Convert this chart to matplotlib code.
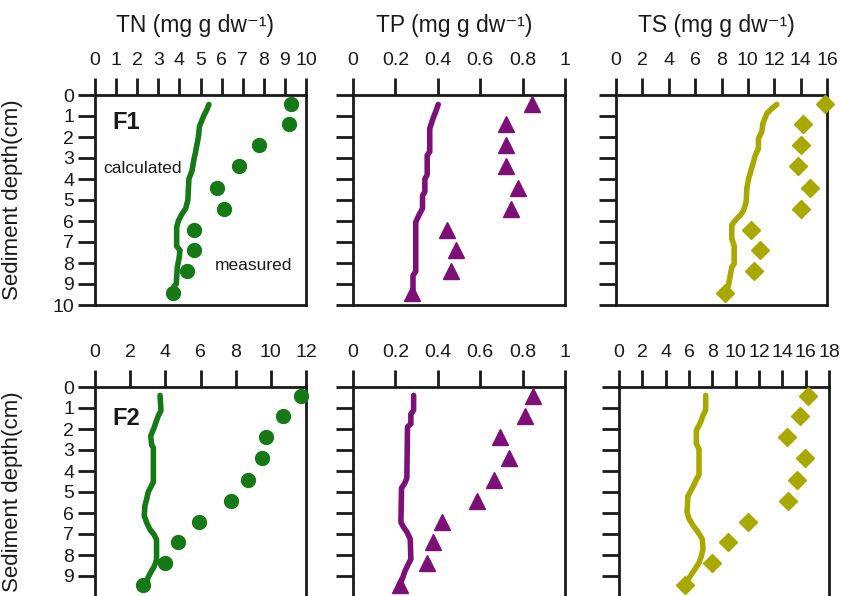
import matplotlib
matplotlib.use("Agg")
import matplotlib.pyplot as plt

plt.rcParams['font.family'] = ['Liberation Sans', 'DejaVu Sans']

# measured depths (cm) shared by all measured profiles
meas_depth = [0.45, 1.4, 2.4, 3.4, 4.45, 5.45, 6.45, 7.4, 8.4, 9.45]

# ---- F1 ----
tn1_meas = [9.29, 9.21, 7.79, 6.84, 5.77, 6.11, 4.71, 4.71, 4.38, 3.71]
tn1_calc_depth = [0.45, 0.7, 1.0, 1.5, 2.0, 2.8, 3.0, 3.6, 4.0, 5.0, 5.4, 5.7, 6.0, 6.3, 7.2, 7.4, 7.8, 8.2, 9.0, 9.1, 9.45]
tn1_calc = [5.4, 5.3, 5.15, 4.95, 4.9, 4.75, 4.7, 4.6, 4.45, 4.4, 4.3, 4.1, 3.95, 3.87, 3.87, 4.03, 3.98, 3.9, 3.85, 3.75, 3.65]

tp1_meas = [0.845, 0.724, 0.724, 0.72, 0.78, 0.745, 0.444, 0.488, 0.46, 0.28]
tp1_calc_depth = [0.45, 0.8, 1.1, 1.6, 2.7, 2.87, 3.8, 4.0, 4.6, 4.8, 5.4, 5.7, 6.05, 8.4, 8.6, 9.45]
tp1_calc = [0.402, 0.39, 0.378, 0.362, 0.362, 0.35, 0.35, 0.339, 0.339, 0.328, 0.328, 0.312, 0.296, 0.296, 0.283, 0.283]

ts1_meas = [15.87, 14.2, 14.0, 13.77, 14.73, 14.0, 10.23, 10.94, 10.43, 8.28]
ts1_calc_depth = [0.45, 0.64, 0.88, 1.35, 1.75, 2.07, 2.55, 2.87, 3.18, 3.45, 4.0, 4.46, 5.1, 5.5, 5.73, 5.97, 6.2, 6.85, 7.16, 8.04, 8.2, 8.6, 9.08, 9.24, 9.45]
ts1_calc = [12.2, 11.82, 11.44, 11.14, 11.06, 10.8, 10.8, 10.56, 10.43, 10.3, 10.05, 9.92, 9.87, 9.67, 9.42, 9.04, 8.78, 8.78, 8.96, 8.96, 8.78, 8.66, 8.53, 8.4, 8.28]

# ---- F2 ----
tn2_meas = [11.72, 10.71, 9.73, 9.48, 8.72, 7.72, 5.93, 4.74, 3.98, 2.75]
tn2_calc_depth = [0.4, 1.13, 1.37, 1.6, 1.94, 2.1, 2.34, 2.75, 2.9, 4.52, 4.77, 5.0, 5.33, 5.65, 6.14, 6.46, 6.79, 7.03, 7.27, 8.24, 8.56, 8.75, 9.05, 9.25, 9.48]
tn2_calc = [3.7, 3.75, 3.6, 3.5, 3.36, 3.28, 3.17, 3.22, 3.32, 3.32, 3.17, 3.03, 2.94, 2.84, 2.8, 2.94, 3.13, 3.36, 3.5, 3.5, 3.36, 3.22, 3.03, 2.94, 2.75]

tp2_meas = [0.849, 0.81, 0.694, 0.736, 0.666, 0.584, 0.419, 0.378, 0.347, 0.221]
tp2_calc_depth = [0.4, 1.1, 1.29, 1.75, 1.9, 4.33, 4.57, 4.81, 6.43, 6.67, 6.9, 7.24, 8.2, 8.45, 8.77, 9.1, 9.42, 9.5]
tp2_calc = [0.286, 0.286, 0.273, 0.273, 0.257, 0.254, 0.245, 0.229, 0.226, 0.238, 0.254, 0.27, 0.273, 0.26, 0.245, 0.234, 0.218, 0.215]

ts2_meas = [16.2, 15.49, 14.4, 15.91, 15.26, 14.49, 11.06, 9.34, 8.0, 5.63]
ts2_calc_depth = [0.4, 1.1, 1.35, 1.58, 1.83, 2.07, 2.7, 2.96, 4.17, 4.41, 4.65, 4.9, 5.2, 5.94, 6.27, 6.59, 6.91, 7.24, 7.72, 8.05, 8.37, 8.69, 8.93, 9.18, 9.5]
ts2_calc = [7.43, 7.43, 7.2, 7.06, 6.86, 6.63, 6.63, 6.86, 6.86, 6.63, 6.43, 6.2, 5.91, 5.83, 6.0, 6.34, 6.77, 7.14, 7.2, 7.06, 6.86, 6.49, 6.2, 5.91, 5.63]

tn_color = '#157a15'
tp_color = '#7d1077'
ts_color = '#a9a800'
txt_color = '#1a1a1a'

W, H = 842, 596
fig = plt.figure(figsize=(W / 100, H / 100), dpi=100)


def make_axes(x0, x1, y0, y1):
    return fig.add_axes([x0 / W, 1 - y1 / H, (x1 - x0) / W, (y1 - y0) / H])


def style_axes(ax, xmax, xticks, ylabels):
    ax.set_xlim(0, xmax)
    ax.set_ylim(10, 0)
    ax.xaxis.tick_top()
    ax.set_xticks(xticks)
    ax.set_xticklabels([f'{t:g}' for t in xticks])
    ax.set_yticks(range(11))
    ax.set_yticklabels(ylabels)
    ax.tick_params(axis='x', direction='out', length=12, width=2.0, pad=7,
                   labelsize=14, colors=txt_color)
    ax.tick_params(axis='y', direction='out', length=12, width=2.0, pad=3,
                   labelsize=14, colors=txt_color)
    for sp in ax.spines.values():
        sp.set_linewidth(2.0)
        sp.set_color(txt_color)


rows = [
    # (y0, y1, columns, datasets)
    (95, 305, [(95, 306), (353, 565), (616, 827)],
     [(tn1_meas, tn1_calc_depth, tn1_calc), (tp1_meas, tp1_calc_depth, tp1_calc), (ts1_meas, ts1_calc_depth, ts1_calc)]),
    (387, 597, [(95, 306), (353, 565), (619, 829)],
     [(tn2_meas, tn2_calc_depth, tn2_calc), (tp2_meas, tp2_calc_depth, tp2_calc), (ts2_meas, ts2_calc_depth, ts2_calc)]),
]
xmaxes = [[10, 1, 16], [12, 1, 18]]
xtick_sets = [
    [list(range(0, 11)), [0, 0.2, 0.4, 0.6, 0.8, 1], list(range(0, 17, 2))],
    [list(range(0, 13, 2)), [0, 0.2, 0.4, 0.6, 0.8, 1], list(range(0, 19, 2))],
]
depth_labels = [[str(i) for i in range(11)],
                [str(i) for i in range(10)] + ['']]  # 10 falls off the bottom edge
colors = [tn_color, tp_color, ts_color]
markers = [('o', 10), ('^', 12), ('D', 9.5)]
titles = ['TN (mg g dw\u207b\u00b9)', 'TP (mg g dw\u207b\u00b9)', 'TS (mg g dw\u207b\u00b9)']

for r, (y0, y1, cols, datasets) in enumerate(rows):
    for c, ((x0, x1), (meas, cdepth, calc)) in enumerate(zip(cols, datasets)):
        ax = make_axes(x0, x1, y0, y1)
        ax.plot(calc, cdepth, color=colors[c], lw=4, solid_capstyle='round', zorder=3)
        ax.plot(meas, meas_depth, linestyle='none', marker=markers[c][0],
                markersize=markers[c][1], color=colors[c], clip_on=False, zorder=4)
        style_axes(ax, xmaxes[r][c], xtick_sets[r][c],
                   depth_labels[r] if c == 0 else [])
        if c == 0:
            ax.set_ylabel('Sediment depth(cm)', fontsize=16, color=txt_color)
            ax.yaxis.set_label_coords(-0.34, 0.5)
            ax.text(0.08, 0.87 if r == 0 else 0.85, 'F1' if r == 0 else 'F2',
                    transform=ax.transAxes, fontsize=17, fontweight='bold',
                    color=txt_color, va='center', ha='left')
        if r == 0:
            ax.text(0.475, 1.333, titles[c], transform=ax.transAxes,
                    fontsize=16.5, color=txt_color, ha='center', va='center')
        if r == 0 and c == 0:
            ax.text(0.038, 0.652, 'calculated', transform=ax.transAxes,
                    fontsize=12.5, color=txt_color, va='center', ha='left')
            ax.text(0.569, 0.19, 'measured', transform=ax.transAxes,
                    fontsize=12.5, color=txt_color, va='center', ha='left')

fig.savefig('out.png', dpi=100)
